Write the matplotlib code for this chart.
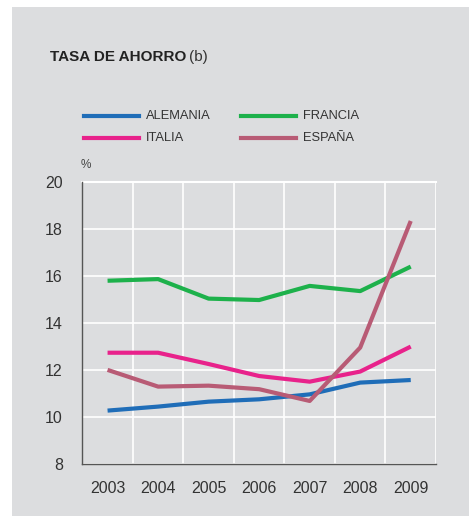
import matplotlib.pyplot as plt
from matplotlib.lines import Line2D
from matplotlib.patches import Rectangle

plt.rcParams['font.family'] = ['Liberation Sans', 'DejaVu Sans']

# Data
years = ['2003', '2004', '2005', '2006', '2007', '2008', '2009']
alemania = [10.27, 10.44, 10.65, 10.75, 10.96, 11.46, 11.57]
francia = [15.79, 15.86, 15.03, 14.97, 15.57, 15.35, 16.39]
italia = [12.73, 12.73, 12.25, 11.74, 11.50, 11.93, 12.99]
espana = [12.00, 11.29, 11.33, 11.18, 10.68, 12.95, 18.33]

series = [
    ('ALEMANIA', alemania, '#1f6db8'),
    ('FRANCIA', francia, '#1db14b'),
    ('ITALIA', italia, '#e8228b'),
    ('ESPAÑA', espana, '#b85b75'),
]

W, H = 469, 522
fig = plt.figure(figsize=(W / 100, H / 100), dpi=100)
fig.patch.set_facecolor('white')

# grey panel behind everything
fig.patches.append(Rectangle((12 / W, 1 - 516 / H), 1, (516 - 7) / H,
                             transform=fig.transFigure, facecolor='#dcdddf',
                             edgecolor='none', zorder=-10))

ax = fig.add_axes([82.3 / W, 1 - 464 / H, (436 - 82.3) / W, (464 - 181.7) / H])
ax.set_facecolor('#dcdddf')

x = range(len(years))
for name, vals, col in series:
    ax.plot(x, vals, color=col, lw=3.0, solid_capstyle='butt', zorder=3)

ax.set_xlim(-0.5, 6.5)
ax.set_ylim(8, 20)
ax.set_yticks(range(8, 21, 2))
ax.set_xticks(list(x))
ax.set_xticklabels(years)
ax.set_xticks([i + 0.5 for i in range(7)], minor=True)
ax.grid(True, which='major', axis='y', color='white', lw=1.2, zorder=1)
ax.grid(True, which='minor', axis='x', color='white', lw=1.2, zorder=1)
ax.tick_params(which='both', length=0, labelsize=11.5, colors='#333333')
ax.tick_params(axis='y', pad=14)
ax.tick_params(axis='x', pad=12)
for s in ['top', 'right']:
    ax.spines[s].set_visible(False)
for s in ['left', 'bottom']:
    ax.spines[s].set_color('#555555')
    ax.spines[s].set_linewidth(1.0)
# white border on top like the grid
ax.axhline(20, color='white', lw=1.5, zorder=1, clip_on=False)

fig.text(85.7 / W, 1 - 165 / H, '%', ha='center', va='center', fontsize=8.5, color='#444444')

# title
t = fig.text(50 / W, 1 - 57 / H, 'TASA DE AHORRO', ha='left', va='center',
             fontsize=11, fontweight='bold', color='#222222')
fig.canvas.draw()
bb = t.get_window_extent()
fig.text(bb.x1 / W + 3 / W, 1 - 57 / H, '(b)', ha='left', va='center',
         fontsize=11, color='#333333')

# legend drawn manually
pos = [(84, 115.7), (241, 115.7), (84, 138), (241, 138)]
for (name, vals, col), (lx, ly) in zip(series, pos):
    fig.add_artist(Line2D([lx / W, (lx + 55) / W], [1 - ly / H, 1 - ly / H],
                          transform=fig.transFigure, color=col, lw=3.0))
    fig.text((lx + 62) / W, 1 - ly / H, name, ha='left', va='center',
             fontsize=9.3, color='#333333')

fig.savefig('out.png', dpi=100, facecolor=fig.get_facecolor())
